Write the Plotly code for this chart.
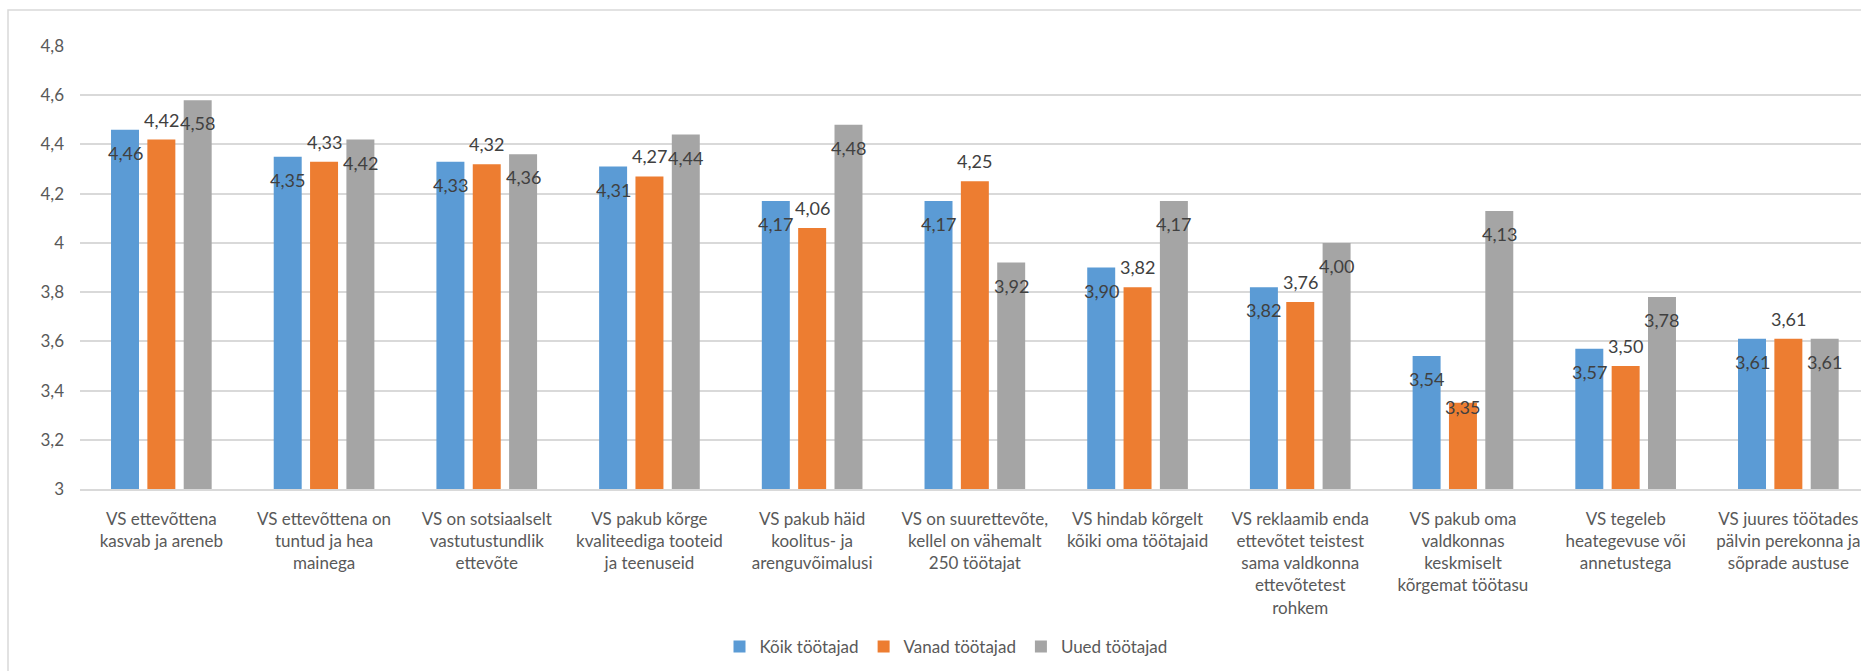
import plotly.graph_objects as go

categories = [
    "VS ettevõttena<br>kasvab ja areneb",
    "VS ettevõttena on<br>tuntud ja hea<br>mainega",
    "VS on sotsiaalselt<br>vastutustundlik<br>ettevõte",
    "VS pakub kõrge<br>kvaliteediga tooteid<br>ja teenuseid",
    "VS pakub häid<br>koolitus- ja<br>arenguvõimalusi",
    "VS on suurettevõte,<br>kellel on vähemalt<br>250 töötajat",
    "VS hindab kõrgelt<br>kõiki oma töötajaid",
    "VS reklaamib enda<br>ettevõtet teistest<br>sama valdkonna<br>ettevõtetest<br>rohkem",
    "VS pakub oma<br>valdkonnas<br>keskmiselt<br>kõrgemat töötasu",
    "VS tegeleb<br>heategevuse või<br>annetustega",
    "VS juures töötades<br>pälvin perekonna ja<br>sõprade austuse",
]

series_names = ["Kõik töötajad", "Vanad töötajad", "Uued töötajad"]
koik = [4.46, 4.35, 4.33, 4.31, 4.17, 4.17, 3.90, 3.82, 3.54, 3.57, 3.61]
vanad = [4.42, 4.33, 4.32, 4.27, 4.06, 4.25, 3.82, 3.76, 3.35, 3.50, 3.61]
uued = [4.58, 4.42, 4.36, 4.44, 4.48, 3.92, 4.17, 4.00, 4.13, 3.78, 3.61]
series_values = [koik, vanad, uued]

y_ticks = [3.0, 3.2, 3.4, 3.6, 3.8, 4.0, 4.2, 4.4, 4.6, 4.8]

colors = ["#5B9BD5", "#ED7D31", "#A5A5A5"]
FONT = "Lato"

W, H = 1861, 671
ML, MR, MT, MB = 80, 0, 46, 182
plot_w = W - ML - MR
cat_px = 162.7
x_span = plot_w / cat_px
bargap = 0.33
bargroupgap = 0.23
slot_px = cat_px * (1 - bargap) / 3

# label vertical offsets (px) per series: inside-end for blue/grey, outside-end for orange
label_shift = [-23, 20, -23]
label_shift_override = {(1, 8): -4}

fig = go.Figure()
for name, vals, col in zip(series_names, series_values, colors):
    fig.add_trace(go.Bar(
        name=name, x=categories, y=vals, marker=dict(color=col, line=dict(width=0)),
        hoverinfo="skip",
    ))

annotations = []
for j, vals in enumerate(series_values):
    for i, v in enumerate(vals):
        annotations.append(dict(
            x=categories[i], y=v, xref="x", yref="y",
            text=f"{v:.2f}".replace(".", ","),
            showarrow=False,
            xshift=(j - 1) * slot_px,
            yshift=label_shift_override.get((j, i), label_shift[j]),
            font=dict(family=FONT, size=18, color="#404040"),
            xanchor="center", yanchor="middle",
        ))

plot_h = H - MT - MB
fig.update_layout(
    width=W, height=H,
    margin=dict(l=ML, r=MR, t=MT, b=MB, pad=0),
    paper_bgcolor="white", plot_bgcolor="white",
    barmode="group", bargap=bargap, bargroupgap=bargroupgap,
    separators=", ",
    font=dict(family=FONT, size=17, color="#595959"),
    showlegend=True,
    legend=dict(
        orientation="h", x=(946 - ML) / plot_w, xanchor="center",
        y=-(647 - (MT + plot_h)) / plot_h, yanchor="middle",
        font=dict(family=FONT, size=17, color="#595959"),
        bgcolor="rgba(0,0,0,0)", traceorder="normal",
    ),
    annotations=annotations,
    shapes=[dict(
        type="rect", xref="paper", yref="paper",
        x0=(8 - ML) / plot_w, x1=1.05,
        y0=-0.6, y1=(MT + plot_h - 10) / plot_h,
        line=dict(color="#D9D9D9", width=1.5), fillcolor="rgba(0,0,0,0)", layer="below",
    )],
)

fig.update_xaxes(
    type="category", range=[-0.5, -0.5 + x_span],
    tickangle=0, ticks="", showgrid=False,
    showline=True, linecolor="#D9D9D9", linewidth=1.5,
    tickfont=dict(family=FONT, size=17, color="#595959"),
    ticklabelstandoff=14, fixedrange=True,
)
fig.update_yaxes(
    range=[3, 4.8], tickvals=y_ticks, ticks="",
    showgrid=True, gridcolor="#D9D9D9", gridwidth=1.5,
    zeroline=False, showline=False,
    tickfont=dict(family=FONT, size=17, color="#595959"),
    ticklabelstandoff=15, fixedrange=True,
)

fig.write_html("out.html")
